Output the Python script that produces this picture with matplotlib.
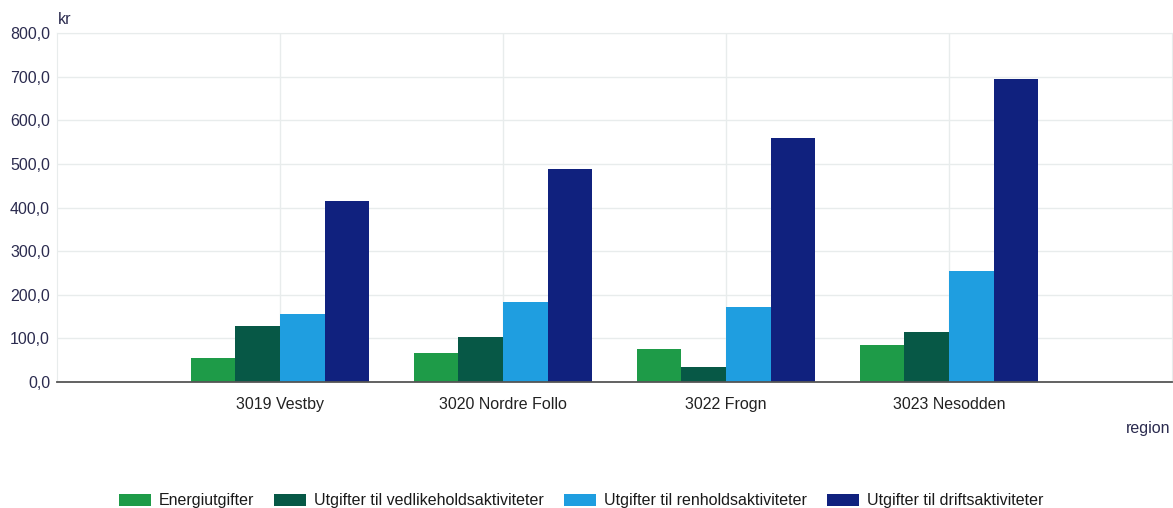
import numpy as np
import matplotlib
matplotlib.use('Agg')
import matplotlib.pyplot as plt
from matplotlib.ticker import FuncFormatter

plt.rcParams['font.family'] = ['Liberation Sans', 'DejaVu Sans']
plt.rcParams['font.size'] = 11.5

# kommuner og utgiftsserier (kr)
regions = ['3019 Vestby', '3020 Nordre Follo', '3022 Frogn', '3023 Nesodden']
series = ['Energiutgifter', 'Utgifter til vedlikeholdsaktiviteter',
          'Utgifter til renholdsaktiviteter', 'Utgifter til driftsaktiviteter']
energi = [54, 67, 75, 85]
vedlikehold = [128, 104, 35, 115]
renhold = [156, 183, 171, 255]
drift = [414, 488, 559, 695]

colors = ['#1e9b48', '#075846', '#1f9ee0', '#10217e']
text_color = '#2b2b4f'

fig = plt.figure(figsize=(11.73, 5.08), dpi=100)
ax = fig.add_axes([57 / 1173, 1 - 382 / 508, 1115 / 1173, 349 / 508])

x = np.arange(1, len(regions) + 1)
w = 0.2
for i, vals in enumerate([energi, vedlikehold, renhold, drift]):
    ax.bar(x - 0.3 + i * w, vals, width=w, color=colors[i], label=series[i], zorder=3)

ax.set_xlim(0, 5)
ax.set_ylim(0, 800)
ax.set_yticks(np.arange(0, 801, 100))
ax.yaxis.set_major_formatter(FuncFormatter(lambda v, p: f'{v:.1f}'.replace('.', ',')))
ax.set_xticks(x)
ax.set_xticklabels(regions)
ax.tick_params(axis='both', length=0, pad=5, colors=text_color)
ax.tick_params(axis='x', pad=11)
for lab in ax.get_xticklabels():
    lab.set_color('#222222')

ax.grid(True, color='#e8ecec', linewidth=1, zorder=0)
for s in ['top', 'right', 'left']:
    ax.spines[s].set_color('#e8ecec')
ax.spines['bottom'].set_color('#555555')
ax.spines['bottom'].set_linewidth(1.3)
ax.spines['bottom'].set_zorder(4)

fig.text(58 / 1173, 1 - 19 / 508, 'kr', color=text_color, va='center', ha='left')
fig.text(1170 / 1173, 1 - 428 / 508, 'region', color=text_color, va='center', ha='right')

fig.legend(loc='center', bbox_to_anchor=(581 / 1173, 1 - 501 / 508), ncol=4,
           frameon=False, handlelength=2.0, handleheight=0.8, columnspacing=1.25,
           handletextpad=0.5, labelcolor='#1a1a1a')

fig.savefig('out.png', dpi=100)
